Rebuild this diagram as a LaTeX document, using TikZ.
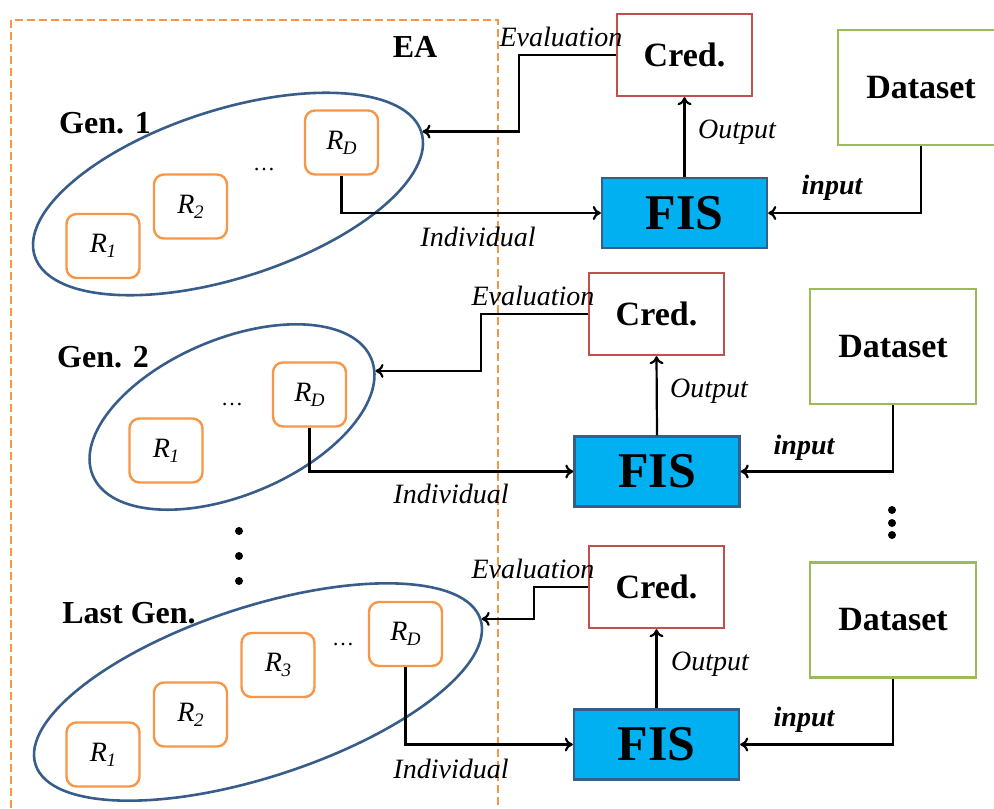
\documentclass[tikz,border=0pt]{standalone}
\usepackage{fontspec}
\setmainfont{Liberation Serif}
\usetikzlibrary{shapes.geometric,arrows.meta}
\definecolor{eaorange}{RGB}{247,150,70}
\definecolor{genblue}{RGB}{56,93,138}
\definecolor{credred}{RGB}{192,80,77}
\definecolor{datagreen}{RGB}{155,187,89}
\definecolor{fisblue}{RGB}{0,176,240}
\newcommand{\rname}[1]{\textit{R}\kern-.2pt\raisebox{-2.5pt}{\fontsize{9.5}{10}\selectfont\textit{#1}}}
\begin{document}
\begin{tikzpicture}[x=0.5pt,y=-0.5pt,
		rulebox/.style={draw=eaorange,line width=1.2pt,rounded corners=5pt,
			minimum width=36.5pt,minimum height=32pt,font=\fontsize{14}{16}\selectfont},
		gen/.style={draw=genblue,line width=1.3pt,ellipse,inner sep=0pt},
		cred/.style={draw=credred,line width=1.2pt,minimum width=67.5pt,
			minimum height=41pt,font=\fontsize{17}{20}\selectfont\bfseries},
		dataset/.style={draw=datagreen,line width=1.2pt,minimum width=83pt,
			minimum height=57.5pt,font=\fontsize{17}{20}\selectfont\bfseries},
		fis/.style={draw=genblue,fill=fisblue,line width=1.2pt,minimum width=82.5pt,
			minimum height=35pt,font=\fontsize{25}{28}\selectfont\bfseries},
		lbl/.style={font=\fontsize{14}{16}\selectfont\itshape},
		inlbl/.style={font=\fontsize{14}{16}\selectfont\bfseries\itshape},
		genlbl/.style={font=\fontsize{16}{19}\selectfont\bfseries},
		more/.style={font=\fontsize{11}{12}\selectfont},
		dot/.style={circle,fill,inner sep=0pt,minimum size=4pt},
		link/.style={-{To[length=4pt,width=7pt]},line width=1.1pt}]
		\useasboundingbox (0,0) rectangle (994,808);
		\draw[eaorange,line width=1pt,dash pattern=on 4pt off 2pt] (11,820) |- (498,20) -- (498,820);
		\node[genlbl] (ea) at (415,47) {EA};
		
		\node[gen,minimum width=203pt,minimum height=84pt,rotate=17.8] (gen1) at (228,194) {};
		\node[genlbl] (gen1lbl) at (105,123) {Gen. 1};
		\node[rulebox] (r11) at (103,246) {\rname{1}};
		\node[rulebox] (r12) at (190.5,206.5) {\rname{2}};
		\node[more] (more1) at (264,170) {\dots};
		\node[rulebox] (rd1) at (341.5,142.5) {\rname{D}};
		\node[cred] (cred1) at (684.5,55) {Cred.};
		\node[fis] (fis1) at (684.5,213) {FIS};
		\node[dataset] (data1) at (921,87.5) {Dataset};
		\draw[link] (cred1.west) -- ++(-97,0) |- (gen1.east);
		\draw[link] (rd1.south) |- (fis1.west);
		\draw[link] (fis1.north) -- (cred1.south);
		\draw[link] (data1.south) |- (fis1.east);
		\node[lbl] (eval1) at (561,37) {Evaluation};
		\node[lbl] (out1) at (737,132) {Output};
		\node[inlbl] (in1) at (832,188) {input};
		\node[lbl] (ind1) at (478,237) {Individual};
		
		\node[gen,minimum width=151pt,minimum height=78pt,rotate=22.8] (gen2) at (232,417) {};
		\node[genlbl] (gen2lbl) at (103,357) {Gen. 2};
		\node[rulebox] (r21) at (166,450.5) {\rname{1}};
		\node[more] (more2) at (232,405) {\dots};
		\node[rulebox] (rd2) at (309.5,394.5) {\rname{D}};
		\node[cred] (cred2) at (656.5,314) {Cred.};
		\node[fis] (fis2) at (657,471.5) {FIS};
		\node[dataset] (data2) at (893,346.5) {Dataset};
		\draw[link] (cred2.west) -- ++(-107,0) |- (gen2.-5);
		\draw[link] (rd2.south) |- (fis2.west);
		\draw[link] (fis2.north) -- (cred2.south);
		\draw[link] (data2.south) |- (fis2.east);
		\node[lbl] (eval2) at (533,296) {Evaluation};
		\node[lbl] (out2) at (709,391) {Output};
		\node[inlbl] (in2) at (804,448) {input};
		\node[lbl] (ind2) at (451,494) {Individual};
		
		\node[dot] (ldot1) at (239,531) {};
		\node[dot] (ldot2) at (239,556) {};
		\node[dot] (ldot3) at (239,581) {};
		\node[dot] (rdot1) at (892,510) {};
		\node[dot] (rdot2) at (892,523) {};
		\node[dot] (rdot3) at (892,535) {};
		
		\node[gen,minimum width=234pt,minimum height=85pt,rotate=18.1] (gen3) at (258,692) {};
		\node[genlbl] (gen3lbl) at (129,613) {Last Gen.};
		\node[rulebox] (r31) at (103,754.5) {\rname{1}};
		\node[rulebox] (r32) at (190.5,714.5) {\rname{2}};
		\node[rulebox] (r33) at (278,665) {\rname{3}};
		\node[more] (more3) at (343,645) {\dots};
		\node[rulebox] (rd3) at (405.5,634) {\rname{D}};
		\node[cred] (cred3) at (656.5,587) {Cred.};
		\node[fis] (fis3) at (656.5,744.5) {FIS};
		\node[dataset] (data3) at (893,620) {Dataset};
		\draw[link] (cred3.west) -- ++(-54,0) |- (gen3.east);
		\draw[link] (rd3.south) |- (fis3.west);
		\draw[link] (fis3.north) -- (cred3.south);
		\draw[link] (data3.south) |- (fis3.east);
		\node[lbl] (eval3) at (533,569) {Evaluation};
		\node[lbl] (out3) at (710,664) {Output};
		\node[inlbl] (in3) at (804,720) {input};
		\node[lbl] (ind3) at (451,769) {Individual};
\end{tikzpicture}
\end{document}
